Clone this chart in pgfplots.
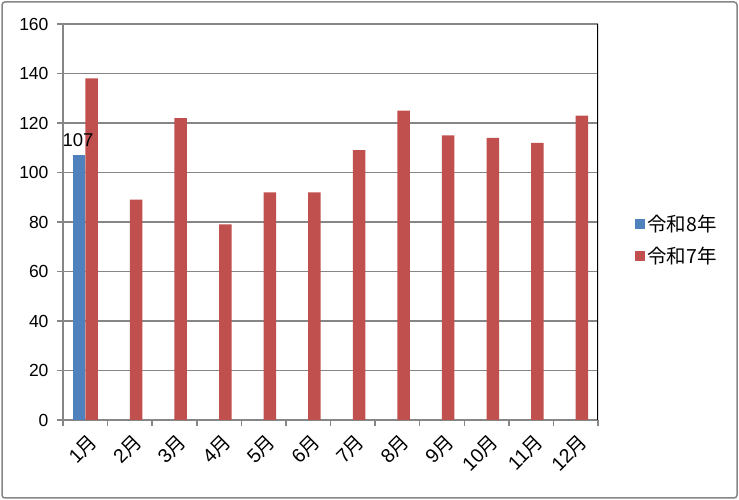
\documentclass[border=0pt]{standalone}
\usepackage{fontspec}
\setmainfont{Liberation Sans}
\newfontfamily\cjk{Noto Sans CJK JP}
\usepackage{pgfplots}
\pgfplotsset{compat=1.18}
\definecolor{s8}{HTML}{4F81BD}
\definecolor{s7}{HTML}{C0504D}
\definecolor{gridg}{RGB}{134,134,134}
\begin{document}
\begin{tikzpicture}[x=1pt,y=1pt]
\path (0,0) rectangle (739,500);
\draw[gridg, line width=1.5pt, rounded corners=3pt] (2,2) rectangle (737,498);
\begin{axis}[
    at={(63pt,80pt)}, anchor=south west,
    scale only axis,
    width=535pt, height=396pt,
    ybar=0pt, bar width=12.5pt,
    xmin=-0.5, xmax=11.5,
    ymin=0, ymax=160,
    ytick={0,20,...,160},
    xtick={0,...,11},
    minor xtick={-0.5,0.5,...,11.5},
    xticklabels={1{\cjk 月},2{\cjk 月},3{\cjk 月},4{\cjk 月},5{\cjk 月},6{\cjk 月},7{\cjk 月},8{\cjk 月},9{\cjk 月},10{\cjk 月},11{\cjk 月},12{\cjk 月}},
    axis x line*=bottom, axis y line*=left,
    axis line style={gridg, line width=1.5pt, -},
    ymajorgrids, grid style={gridg, line width=1.5pt},
    tick align=outside,
    major tick length=6pt, minor tick length=6pt,
    major x tick style={draw=none},
    minor x tick style={gridg, line width=1.5pt},
    y tick style={gridg, line width=1.5pt},
    /pgf/number format/assume math mode=true,
    tick label style={font=\fontsize{17.5}{19}\selectfont, black},
    xticklabel style={font=\fontsize{19.5}{21}\selectfont, rotate=45, anchor=north east, inner sep=1pt, yshift=-5pt, xshift=-2pt},
    yticklabel style={xshift=-5pt},
    legend style={at={(1.064,0.455)}, anchor=west, draw=none, fill=none,
        font=\fontsize{19.5}{21}\selectfont\cjk, row sep=10pt},
    legend cell align=left,
    legend image code/.code={\fill[#1] (0pt,-5pt) rectangle (10pt,5pt);},
]
\addplot[fill=s8, draw=none, nodes near coords,
    every node near coord/.append style={font=\fontsize{18.5}{20}\selectfont, black, yshift=5pt, xshift=-1pt},
    /pgf/number format/assume math mode=true]
    coordinates {(0,107)};
\addplot[fill=s7, draw=none] coordinates {
    (0,138) (1,89) (2,122) (3,79) (4,92) (5,92)
    (6,109) (7,125) (8,115) (9,114) (10,112) (11,123)};
\legend{令和8年,令和7年}
\draw[black, line width=1.5pt] (rel axis cs:1,0) -- (rel axis cs:1,1);
\end{axis}
\end{tikzpicture}
\end{document}
